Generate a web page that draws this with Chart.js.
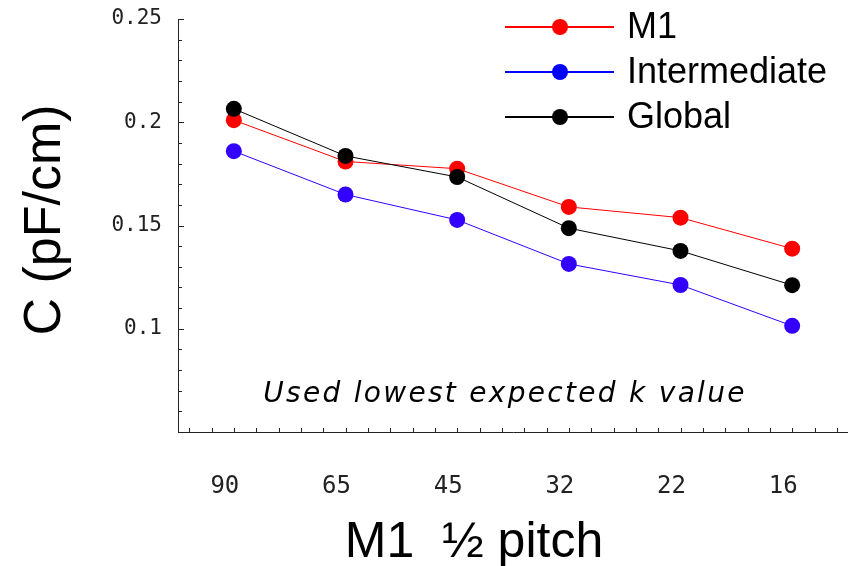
<!DOCTYPE html>
<html>
<head>
<meta charset="utf-8">
<script src="https://cdn.jsdelivr.net/npm/chart.js@4/dist/chart.umd.min.js"></script>
<style>
  html, body { margin: 0; padding: 0; background: #fff; }
  #wrap { width: 848px; height: 566px; position: relative; }
</style>
</head>
<body>
<div id="wrap"><canvas id="capChart"></canvas></div>
<script>
// datos
var pitches = ['90', '65', '45', '32', '22', '16'];
var m1Values = [0.201, 0.181, 0.1775, 0.159, 0.1538, 0.1388];
var intermediateValues = [0.186, 0.165, 0.1527, 0.1314, 0.1212, 0.1014];
var globalValues = [0.2065, 0.1837, 0.1735, 0.1487, 0.1377, 0.1211];
var yTickLabels = [0.1, 0.15, 0.2, 0.25];
var seriesNames = ['M1', 'Intermediate', 'Global'];
var note = 'Used lowest expected k value';
var xTitle = 'M1  \u00bd pitch';
var yTitle = 'C (pF/cm)';

var lineColors = ['#ff0000', '#3300ff', '#000000'];
var legendColors = ['#ff0000', '#0000ff', '#000000'];

// quitar el relleno automatico de las escalas
function noPad(scale) {
    scale.paddingTop = 0;
    scale.paddingBottom = 0;
    scale.paddingLeft = 0;
    scale.paddingRight = 0;
}

// ticks pequeños hacia dentro, leyenda y textos
var extras = {
    id: 'extras',
    afterDraw: function (chart) {
        var ctx = chart.ctx;
        var x = chart.scales.x, y = chart.scales.y;
        var area = chart.chartArea;
        ctx.save();
        ctx.strokeStyle = '#222';
        ctx.lineWidth = 1;
        ctx.beginPath();
        // ticks del eje y cada 0.01
        for (var v = 6; v <= 25; v++) {
            var py = Math.round(y.getPixelForValue(v / 100)) + 0.5;
            var len = (v % 5 === 0) ? 6 : 4;
            ctx.moveTo(area.left, py);
            ctx.lineTo(area.left + len, py);
        }
        // ticks del eje x, cinco por categoria
        for (var k = -2; k <= 27; k++) {
            var px = Math.round(x.getPixelForValue(k / 5)) + 0.5;
            if (px > area.right) break;
            ctx.moveTo(px, area.bottom);
            ctx.lineTo(px, area.bottom - 4);
        }
        ctx.stroke();

        // leyenda
        var rows = [27, 72, 117];
        for (var i = 0; i < seriesNames.length; i++) {
            ctx.strokeStyle = legendColors[i];
            ctx.lineWidth = 2;
            ctx.beginPath();
            ctx.moveTo(505, rows[i]);
            ctx.lineTo(614, rows[i]);
            ctx.stroke();
            ctx.fillStyle = legendColors[i];
            ctx.beginPath();
            ctx.arc(560, rows[i], 8, 0, Math.PI * 2);
            ctx.fill();
            ctx.fillStyle = '#000';
            ctx.font = '36px "Liberation Sans", Arial, sans-serif';
            ctx.textAlign = 'left';
            ctx.textBaseline = 'middle';
            ctx.fillText(seriesNames[i], 627, rows[i] + 1);
        }

        // nota
        ctx.fillStyle = '#000';
        ctx.font = 'italic 28px "DejaVu Sans", Verdana, sans-serif';
        ctx.letterSpacing = '2.3px';
        ctx.textAlign = 'center';
        ctx.textBaseline = 'alphabetic';
        ctx.fillText(note, 505, 402);
        ctx.letterSpacing = '0px';

        // titulo eje x
        ctx.font = '50px "Liberation Sans", Arial, sans-serif';
        ctx.fillText(xTitle, 474, 557);

        // titulo eje y
        ctx.translate(60, 220);
        ctx.rotate(-Math.PI / 2);
        ctx.font = '52px "Liberation Sans", Arial, sans-serif';
        ctx.fillText(yTitle, 0, 0);
        ctx.restore();
    }
};

var ctx = document.getElementById('capChart').getContext('2d');
var capChart = new Chart(ctx, {
    type: 'line',
    data: {
        labels: pitches,
        datasets: [{
            label: seriesNames[0],
            data: m1Values,
            borderColor: lineColors[0],
            backgroundColor: lineColors[0],
            order: 1
        }, {
            label: seriesNames[1],
            data: intermediateValues,
            borderColor: lineColors[1],
            backgroundColor: lineColors[1],
            order: 2
        }, {
            label: seriesNames[2],
            data: globalValues,
            borderColor: lineColors[2],
            backgroundColor: lineColors[2],
            order: 0
        }]
    },
    options: {
        responsive: true,
        maintainAspectRatio: false,
        animation: false,
        layout: { autoPadding: false, padding: { top: 19, right: 0, left: 0, bottom: 0 } },
        elements: {
            line: { borderWidth: 1, tension: 0 },
            point: { radius: 8, borderWidth: 0, hoverRadius: 8 }
        },
        plugins: {
            legend: { display: false },
            tooltip: { enabled: false }
        },
        scales: {
            x: {
                offset: true,
                afterFit: function (scale) { scale.height = 134; noPad(scale); },
                grid: { display: false, drawTicks: false },
                border: { display: true, color: '#222', width: 1 },
                ticks: {
                    color: '#222',
                    padding: 40,
                    labelOffset: -9,
                    font: { family: '"DejaVu Sans Mono", monospace', size: 24 }
                }
            },
            y: {
                min: 0.05,
                max: 0.25,
                afterFit: function (scale) { scale.width = 178; noPad(scale); },
                grid: { display: false, drawTicks: false },
                border: { display: true, color: '#222', width: 1 },
                ticks: {
                    stepSize: 0.01,
                    autoSkip: false,
                    color: '#222',
                    padding: 16,
                    font: { family: '"DejaVu Sans Mono", monospace', size: 21 },
                    callback: function (value) {
                        for (var i = 0; i < yTickLabels.length; i++) {
                            if (Math.abs(value - yTickLabels[i]) < 1e-6) return String(yTickLabels[i]);
                        }
                        return '';
                    }
                }
            }
        }
    },
    plugins: [extras]
});
</script>
</body>
</html>
